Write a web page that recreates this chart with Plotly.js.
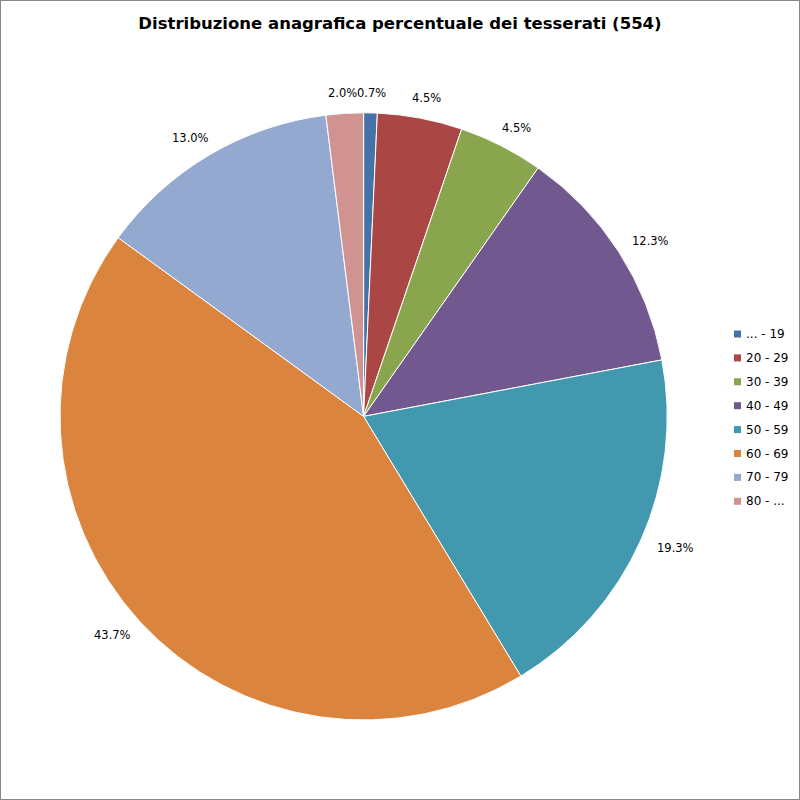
<!DOCTYPE html>
<html>
<head>
<meta charset="utf-8">
<script src="https://cdn.plot.ly/plotly-3.0.1.min.js"></script>
<style>html,body{margin:0;padding:0;background:#fff}#chart{width:800px;height:800px}</style>
</head>
<body>
<div id="chart"></div>
<script>
const categories = ['... - 19', '20 - 29', '30 - 39', '40 - 49', '50 - 59', '60 - 69', '70 - 79', '80 - ...'];
const counts = [4, 25, 25, 68, 107, 242, 72, 11];
const colors = ['#4572A7', '#AA4643', '#89A54E', '#71588F', '#4198AF', '#DB843D', '#93A9CF', '#D19392'];

const W = 800, H = 800;
const domX = [0.075, 0.834], domY = [0.1, 0.859];

const trace = {
  type: 'pie',
  labels: categories,
  values: counts,
  sort: false,
  direction: 'clockwise',
  rotation: 0,
  marker: {colors: colors, line: {color: '#ffffff', width: 1}},
  textinfo: 'none',
  textposition: 'none',
  hoverinfo: 'label+value+percent',
  showlegend: false,
  domain: {x: domX, y: domY}
};

// Data labels placed outside each slice, derived from the slice values
const total = counts.reduce((a, b) => a + b, 0);
const cx = (domX[0] + domX[1]) / 2 * W;
const cy = (1 - (domY[0] + domY[1]) / 2) * H;
const R = Math.min((domX[1] - domX[0]) * W, (domY[1] - domY[0]) * H) / 2;
const annotations = [];
let cum = 0;
counts.forEach((v, i) => {
  const frac = v / total;
  const mid = (cum + frac / 2) * 2 * Math.PI;
  cum += frac;
  const s = Math.sin(mid), c = Math.cos(mid);
  const txt = (frac * 100).toFixed(1) + '%';
  const hw = txt.length * 3.6;
  const px = cx + (R + 20) * s + hw * s;
  const py = cy - (R + 20) * c;
  annotations.push({
    xref: 'paper', yref: 'paper', x: px / W, y: 1 - py / H,
    xanchor: 'center', yanchor: 'middle', showarrow: false,
    text: txt, font: {family: 'DejaVu Sans', size: 11.5, color: '#000'}
  });
});

// Legend built from the category list
const shapes = [{type: 'rect', xref: 'paper', yref: 'paper', x0: 0, x1: 1, y0: 0, y1: 1, line: {color: '#868686', width: 2}}];
const legX = 734, legY0 = 334, legStep = 23.9, sq = 7;
categories.forEach((lab, i) => {
  const y = legY0 + i * legStep;
  shapes.push({type: 'rect', xref: 'paper', yref: 'paper',
    x0: legX / W, x1: (legX + sq) / W, y0: 1 - (y + sq / 2) / H, y1: 1 - (y - sq / 2) / H,
    fillcolor: colors[i], line: {width: 0}});
  annotations.push({xref: 'paper', yref: 'paper', x: (legX + sq + 3) / W, y: 1 - y / H,
    xanchor: 'left', yanchor: 'middle', showarrow: false, text: lab,
    font: {family: 'DejaVu Sans', size: 12, color: '#000'}});
});

const layout = {
  width: W, height: H,
  margin: {l: 0, r: 0, t: 0, b: 0},
  paper_bgcolor: '#fff',
  font: {family: 'DejaVu Sans', size: 11, color: '#000'},
  title: {text: '<b>Distribuzione anagrafica percentuale dei tesserati (554)</b>', x: 0.5, xanchor: 'center', y: 0.971, yanchor: 'middle', font: {family: 'DejaVu Sans', size: 16.5, color: '#000'}},
  showlegend: false,
  annotations: annotations,
  shapes: shapes
};

Plotly.newPlot('chart', [trace], layout, {displayModeBar: false, staticPlot: true});
</script>
</body>
</html>
